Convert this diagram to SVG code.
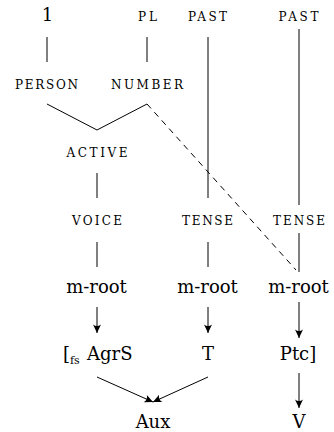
<svg xmlns="http://www.w3.org/2000/svg" width="334" height="432" viewBox="0 0 334 432">
<style>
text{font-family:"DejaVu Serif","Liberation Serif",serif;fill:#000}
.r{font-size:18px;text-anchor:middle}
.sc{font-size:12px;text-anchor:middle}
.sub{font-size:11px}
.l{stroke:#000;stroke-width:1;fill:none}
.d{stroke-dasharray:6,5}
</style>
<defs>
<marker id="ah" markerUnits="userSpaceOnUse" viewBox="-9 -5 10 10" refX="0" refY="0" markerWidth="10" markerHeight="10" orient="auto">
<path d="M0,0 L-8.5,-4 Q-5.5,0 -8.5,4 Z" fill="#000"/>
</marker>
</defs>
<rect width="334" height="432" fill="#fff"/>
<g id="n1"><text class="r" x="47.5" y="21">1</text></g>
<g id="pl"><text class="sc" x="147.5" y="21" textLength="19" lengthAdjust="spacing">PL</text></g>
<g id="past1"><text class="sc" x="207.5" y="21" textLength="39" lengthAdjust="spacing">PAST</text></g>
<g id="past2"><text class="sc" x="298.5" y="21" textLength="40" lengthAdjust="spacing">PAST</text></g>
<g id="person"><text class="sc" x="46.5" y="89" textLength="63" lengthAdjust="spacing">PERSON</text></g>
<g id="number"><text class="sc" x="147" y="89" textLength="72" lengthAdjust="spacing">NUMBER</text></g>
<g id="active"><text class="sc" x="97" y="157" textLength="61" lengthAdjust="spacing">ACTIVE</text></g>
<g id="voice"><text class="sc" x="97" y="225" textLength="50" lengthAdjust="spacing">VOICE</text></g>
<g id="tense1"><text class="sc" x="207.5" y="225" textLength="51" lengthAdjust="spacing">TENSE</text></g>
<g id="tense2"><text class="sc" x="299" y="225" textLength="52" lengthAdjust="spacing">TENSE</text></g>
<g id="mroot1"><text class="r" x="96.5" y="293">m-root</text></g>
<g id="mroot2"><text class="r" x="207.5" y="293">m-root</text></g>
<g id="mroot3"><text class="r" x="298.5" y="293">m-root</text></g>
<g id="agrs"><text x="63" y="360" font-size="18">[</text><text class="sub" x="70" y="364">fs</text><text x="87" y="360" font-size="18">AgrS</text></g>
<g id="t"><text class="r" x="208" y="360">T</text></g>
<g id="ptc"><text class="r" x="298" y="360">Ptc]</text></g>
<g id="aux"><text class="r" x="153" y="428">Aux</text></g>
<g id="v"><text class="r" x="299" y="428">V</text></g>
<g id="connectors">
<line class="l" x1="47" y1="37" x2="47" y2="62"/>
<line class="l" x1="147" y1="37" x2="147" y2="62"/>
<line class="l" x1="208" y1="37" x2="208" y2="198"/>
<line class="l" x1="299" y1="29" x2="299" y2="205"/>
<polyline class="l" points="47,104 97,130 147,104"/>
<line class="l d" x1="147" y1="104" x2="296" y2="270"/>
<line class="l" x1="97" y1="173" x2="97" y2="198"/>
<line class="l" x1="97" y1="242" x2="97" y2="267"/>
<line class="l" x1="208" y1="242" x2="208" y2="267"/>
<line class="l" x1="299" y1="233" x2="299" y2="272"/>
<line class="l" x1="97" y1="307" x2="97" y2="333" marker-end="url(#ah)"/>
<line class="l" x1="208" y1="307" x2="208" y2="333" marker-end="url(#ah)"/>
<line class="l" x1="299" y1="302" x2="299" y2="338" marker-end="url(#ah)"/>
<line class="l" x1="97" y1="377" x2="153" y2="402" marker-end="url(#ah)"/>
<line class="l" x1="208" y1="377" x2="153" y2="402" marker-end="url(#ah)"/>
<line class="l" x1="299" y1="373" x2="299" y2="408" marker-end="url(#ah)"/>
</g>
</svg>
